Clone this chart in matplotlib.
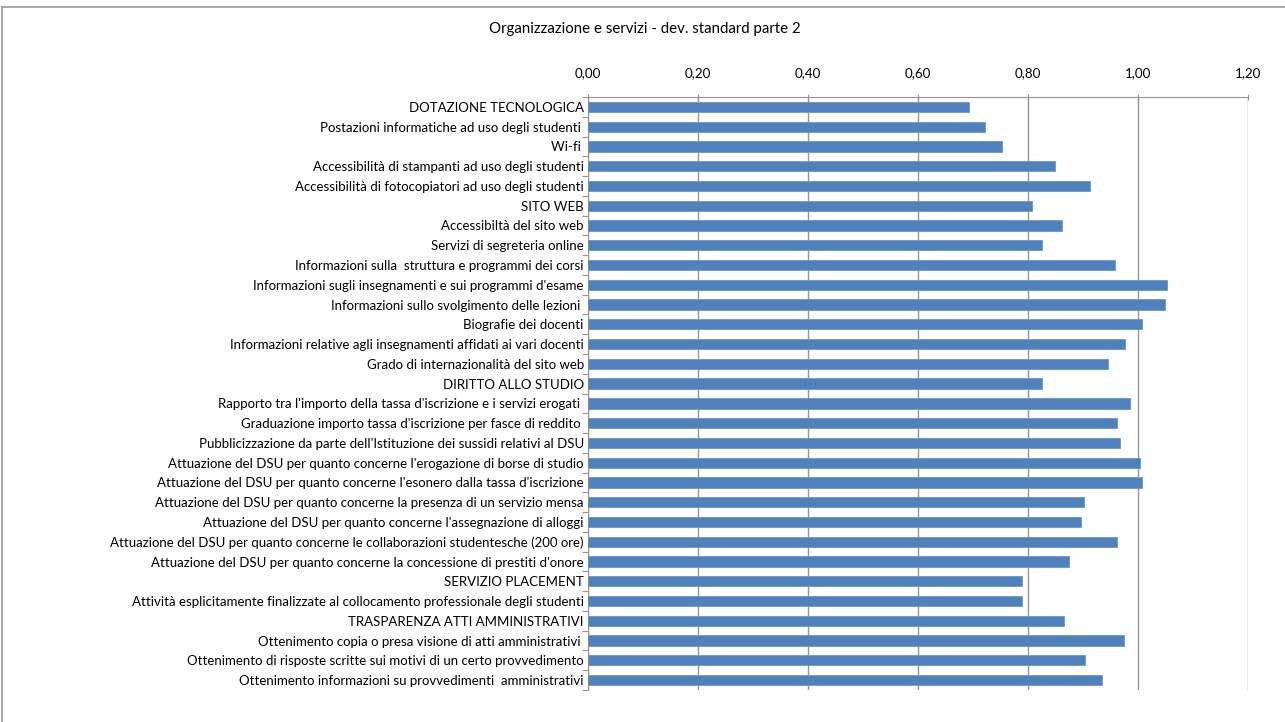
import matplotlib.pyplot as plt
from matplotlib.lines import Line2D
from matplotlib.ticker import FuncFormatter, FixedLocator

# -----------------------------
# Data
# -----------------------------
voci = [
    "DOTAZIONE TECNOLOGICA",
    "Postazioni informatiche ad uso degli studenti ",
    "Wi-fi ",
    "Accessibilità di stampanti ad uso degli studenti",
    "Accessibilità di fotocopiatori ad uso degli studenti",
    "SITO WEB",
    "Accessibiltà del sito web",
    "Servizi di segreteria online",
    "Informazioni sulla  struttura e programmi dei corsi",
    "Informazioni sugli insegnamenti e sui programmi d'esame",
    "Informazioni sullo svolgimento delle lezioni ",
    "Biografie dei docenti",
    "Informazioni relative agli insegnamenti affidati ai vari docenti",
    "Grado di internazionalità del sito web",
    "DIRITTO ALLO STUDIO",
    "Rapporto tra l'importo della tassa d'iscrizione e i servizi erogati ",
    "Graduazione importo tassa d'iscrizione per fasce di reddito ",
    "Pubblicizzazione da parte dell'Istituzione dei sussidi relativi al DSU",
    "Attuazione del DSU per quanto concerne l'erogazione di borse di studio",
    "Attuazione del DSU per quanto concerne l'esonero dalla tassa d'iscrizione",
    "Attuazione del DSU per quanto concerne la presenza di un servizio mensa",
    "Attuazione del DSU per quanto concerne l'assegnazione di alloggi",
    "Attuazione del DSU per quanto concerne le collaborazioni studentesche (200 ore)",
    "Attuazione del DSU per quanto concerne la concessione di prestiti d'onore",
    "SERVIZIO PLACEMENT",
    "Attività esplicitamente finalizzate al collocamento professionale degli studenti",
    "TRASPARENZA ATTI AMMINISTRATIVI",
    "Ottenimento copia o presa visione di atti amministrativi ",
    "Ottenimento di risposte scritte sui motivi di un certo provvedimento",
    "Ottenimento informazioni su provvedimenti  amministrativi",
]

dev_std = [
    0.692, 0.721, 0.752, 0.849, 0.913,
    0.807, 0.862, 0.826, 0.959, 1.053, 1.049, 1.007, 0.977, 0.945,
    0.826, 0.985, 0.961, 0.967, 1.003, 1.008, 0.902, 0.896, 0.961, 0.874,
    0.789, 0.789,
    0.866, 0.974, 0.904, 0.934,
]

x_ticks = [0.0, 0.2, 0.4, 0.6, 0.8, 1.0, 1.2]

# -----------------------------
# Chart
# -----------------------------
FONT = ["Lato", "DejaVu Sans"]
plt.rcParams["font.family"] = FONT
AXIS_GRAY = "#969696"

fig = plt.figure(figsize=(12.85, 7.22), dpi=100)
ax = fig.add_axes([588 / 1285, 1 - 690 / 722, 660 / 1285, 593 / 722])

pos = list(range(len(voci)))
ax.barh(pos, dev_std, height=0.52, color="#4F81BD", edgecolor="#6f95c8",
        linewidth=0.6, zorder=3)

ax.set_ylim(len(voci) - 0.5, -0.5)
ax.set_xlim(0, 1.2)

ax.xaxis.set_major_locator(FixedLocator(x_ticks))
ax.xaxis.set_major_formatter(FuncFormatter(lambda v, _: f"{v:.2f}".replace(".", ",")))
ax.xaxis.tick_top()
ax.tick_params(axis="x", which="major", direction="inout", length=5, width=0.8,
               color=AXIS_GRAY, labelsize=9.6, pad=10, labelcolor="#000000")
ax.grid(axis="x", color=AXIS_GRAY, linewidth=1.0, zorder=0)

ax.set_yticks(pos)
ax.set_yticklabels(voci, fontsize=9.5)
ax.set_yticks([p + 0.5 for p in [-1] + pos], minor=True)
ax.tick_params(axis="y", which="major", length=0, pad=3)
ax.tick_params(axis="y", which="minor", direction="out", length=4, width=0.8,
               color=AXIS_GRAY)

for side in ["right", "bottom"]:
    ax.spines[side].set_visible(False)
for side in ["left", "top"]:
    ax.spines[side].set_color(AXIS_GRAY)
    ax.spines[side].set_linewidth(0.8)

fig.text(645 / 1285, 1 - 29 / 722, "Organizzazione e servizi - dev. standard parte 2",
         ha="center", va="center", fontsize=10.8)

# chart frame
fig.add_artist(Line2D([2 / 1285, 1.0], [1 - 7 / 722, 1 - 7 / 722],
                      transform=fig.transFigure, color="#9a9a9a", linewidth=1.2))
fig.add_artist(Line2D([2 / 1285, 2 / 1285], [0.0, 1 - 7 / 722],
                      transform=fig.transFigure, color="#9a9a9a", linewidth=1.2))

fig.savefig("out.png", dpi=100, facecolor="white")
